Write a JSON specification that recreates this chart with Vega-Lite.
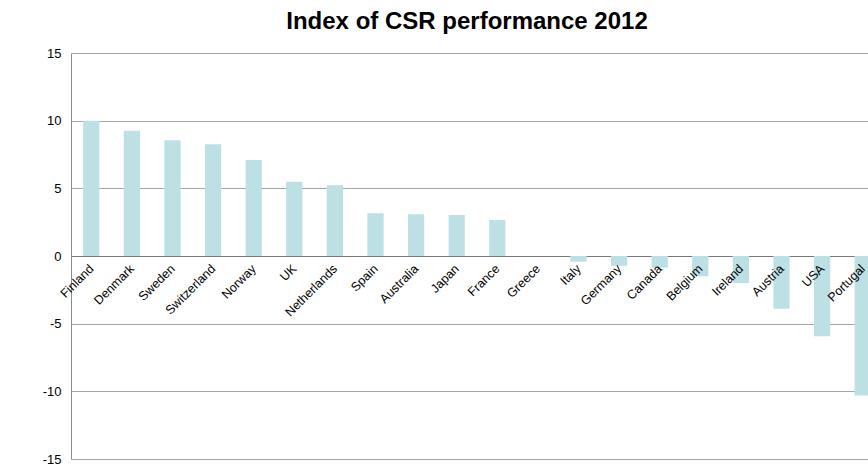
{
  "$schema": "https://vega.github.io/schema/vega-lite/v6.json",
  "autosize": {"type": "none"},
  "padding": {"left": 71, "top": 53, "right": 0, "bottom": 7},
  "width": 812,
  "height": 406,
  "background": "white",
  "title": {
    "text": "Index of CSR performance 2012",
    "font": "Liberation Sans",
    "fontSize": 24,
    "fontWeight": "bold",
    "color": "#000000",
    "anchor": "middle",
    "dx": -10,
    "offset": 13
  },
  "config": {
    "view": {"stroke": null},
    "font": "Liberation Sans"
  },
  "data": {
    "values": [
      {"country": "Finland", "value": 10.0},
      {"country": "Denmark", "value": 9.26},
      {"country": "Sweden", "value": 8.55},
      {"country": "Switzerland", "value": 8.25},
      {"country": "Norway", "value": 7.09},
      {"country": "UK", "value": 5.49},
      {"country": "Netherlands", "value": 5.22},
      {"country": "Spain", "value": 3.16},
      {"country": "Australia", "value": 3.08},
      {"country": "Japan", "value": 3.03},
      {"country": "France", "value": 2.66},
      {"country": "Greece", "value": 0},
      {"country": "Italy", "value": -0.42},
      {"country": "Germany", "value": -0.72},
      {"country": "Canada", "value": -0.86},
      {"country": "Belgium", "value": -1.5},
      {"country": "Ireland", "value": -2.0},
      {"country": "Austria", "value": -3.9},
      {"country": "USA", "value": -5.93},
      {"country": "Portugal", "value": -10.3}
    ]
  },
  "mark": {"type": "bar", "color": "#BCE0E4"},
  "encoding": {
    "x": {
      "field": "country",
      "type": "nominal",
      "sort": null,
      "title": null,
      "scale": {"paddingInner": 0.6, "paddingOuter": 0.3},
      "axis": {
        "orient": "bottom",
        "offset": -203,
        "zindex": 1,
        "domain": false,
        "ticks": false,
        "labelAngle": -45,
        "labelAlign": "right",
        "labelBaseline": "top",
        "labelFontSize": 12.5,
        "labelColor": "#000000",
        "labelPadding": 6,
        "labelOffset": -4,
        "labelOverlap": false,
        "labelFont": "Liberation Sans"
      }
    },
    "y": {
      "field": "value",
      "type": "quantitative",
      "title": null,
      "scale": {"domain": [-15, 15], "nice": false, "zero": false},
      "axis": {
        "values": [-15, -10, -5, 0, 5, 10, 15],
        "labelExpr": "'' + datum.value",
        "grid": true,
        "gridColor": {"condition": {"test": "datum.value === 0", "value": "#7a7a7a"}, "value": "#a6a6a6"},
        "gridWidth": 1,
        "domainColor": "#8c8c8c",
        "ticks": false,
        "labelFontSize": 13,
        "labelColor": "#000000",
        "labelPadding": 10,
        "labelFont": "Liberation Sans"
      }
    }
  }
}
